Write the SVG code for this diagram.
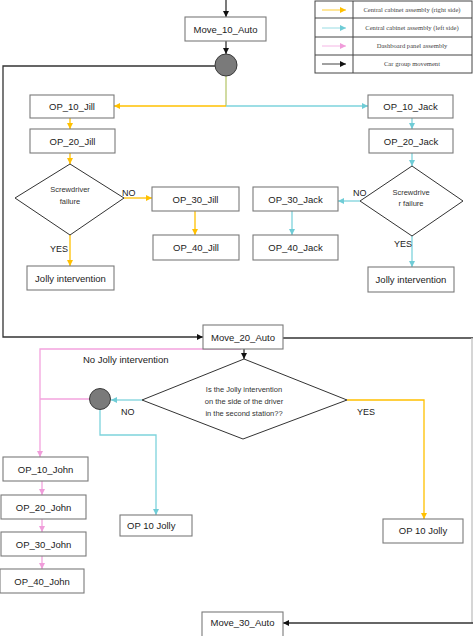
<svg xmlns="http://www.w3.org/2000/svg" width="474" height="636" viewBox="0 0 474 636">
<defs>
<style>
.box{fill:#fff;stroke:#7a7a7a;stroke-width:1.1}
.dia{fill:#fff;stroke:#333;stroke-width:1}
.t{font-family:"Liberation Sans",Arial,sans-serif;font-size:9.5px;fill:#222;text-anchor:middle}
.s{font-family:"Liberation Sans",Arial,sans-serif;font-size:7.5px;fill:#333;text-anchor:middle}
.l{font-family:"Liberation Sans",Arial,sans-serif;font-size:9px;fill:#222}
.lg{font-family:"Liberation Serif","Times New Roman",serif;font-size:6.6px;fill:#444;text-anchor:middle}
.k{fill:none;stroke:#333;stroke-width:1.3}
.y{fill:none;stroke:#FFC000;stroke-width:1.3}
.c{fill:none;stroke:#7DD3DC;stroke-width:1.3}
.p{fill:none;stroke:#F3A3DE;stroke-width:1.3}
.circ{fill:#7a7a7a;stroke:#3a3a3a;stroke-width:1}
</style>
<marker id="ak" markerUnits="userSpaceOnUse" markerWidth="7" markerHeight="6" refX="6" refY="3" orient="auto"><path d="M0,0L6,3L0,6z" fill="#111"/></marker>
<marker id="ay" markerUnits="userSpaceOnUse" markerWidth="7" markerHeight="6" refX="6" refY="3" orient="auto"><path d="M0,0L6,3L0,6z" fill="#FFC000"/></marker>
<marker id="ac" markerUnits="userSpaceOnUse" markerWidth="7" markerHeight="6" refX="6" refY="3" orient="auto"><path d="M0,0L6,3L0,6z" fill="#6FCCD6"/></marker>
<marker id="ap" markerUnits="userSpaceOnUse" markerWidth="7" markerHeight="6" refX="6" refY="3" orient="auto"><path d="M0,0L6,3L0,6z" fill="#F09CDA"/></marker>
</defs>
<rect width="474" height="636" fill="#fff"/>

<g id="legend">
<rect x="315" y="1" width="157" height="72" fill="#fff" stroke="#444" stroke-width="1"/>
<line x1="353" y1="1" x2="353" y2="73" stroke="#444"/>
<line x1="315" y1="18" x2="472" y2="18" stroke="#444"/>
<line x1="315" y1="37" x2="472" y2="37" stroke="#444"/>
<line x1="315" y1="55" x2="472" y2="55" stroke="#444"/>
<line x1="322" y1="10" x2="346" y2="10" stroke="#FFC000" stroke-width="0.8" marker-end="url(#ay)"/>
<line x1="322" y1="28" x2="346" y2="28" stroke="#7DD3DC" stroke-width="0.8" marker-end="url(#ac)"/>
<line x1="322" y1="46" x2="346" y2="46" stroke="#F3A3DE" stroke-width="0.8" marker-end="url(#ap)"/>
<line x1="322" y1="64" x2="346" y2="64" stroke="#111" stroke-width="0.8" marker-end="url(#ak)"/>
<text class="lg" x="412" y="12">Central cabinet assembly (right side)</text>
<text class="lg" x="412" y="30">Central cabinet assembly (left side)</text>
<text class="lg" x="412" y="48">Dashboard panel assembly</text>
<text class="lg" x="412" y="66">Car group movement</text>
</g>

<g id="connectors">
<path class="k" d="M226,0V17" marker-end="url(#ak)"/>
<path class="k" d="M226,41V54" marker-end="url(#ak)"/>
<path d="M226,76V106" fill="none" stroke="#B9C870" stroke-width="1.3"/>
<path class="y" d="M226,106H114" marker-end="url(#ay)"/>
<path class="c" d="M226,106H368" marker-end="url(#ac)"/>
<path class="y" d="M70,118V129" marker-end="url(#ay)"/>
<path class="y" d="M70,153V164" marker-end="url(#ay)"/>
<path class="y" d="M124,198H152" marker-end="url(#ay)"/>
<path class="y" d="M195,211V235" marker-end="url(#ay)"/>
<path class="y" d="M70,235V266" marker-end="url(#ay)"/>
<path class="c" d="M412,118V129" marker-end="url(#ac)"/>
<path class="c" d="M412,153V166" marker-end="url(#ac)"/>
<path class="c" d="M360,201H338" marker-end="url(#ac)"/>
<path class="c" d="M292,211V235" marker-end="url(#ac)"/>
<path class="c" d="M412,236V267" marker-end="url(#ac)"/>
<path class="k" d="M215,66H3V337H203" stroke-width="1.6" marker-end="url(#ak)"/>
<path class="k" d="M283,338H473"/>
<path d="M472,338V623" fill="none" stroke="#c8c8c8" stroke-width="1.5"/>
<path class="k" d="M473,623H283" marker-end="url(#ak)"/>
<path class="k" d="M244,349V359" marker-end="url(#ak)"/>
<path class="p" d="M241,349H40V457" marker-end="url(#ap)"/>
<path class="p" d="M89,399H40"/>
<path class="p" d="M42,481V495" marker-end="url(#ap)"/>
<path class="p" d="M42,519V532" marker-end="url(#ap)"/>
<path class="p" d="M42,556V569" marker-end="url(#ap)"/>
<path class="c" d="M142,400H111" marker-end="url(#ac)"/>
<path class="c" d="M100,410V435H156V515" marker-end="url(#ac)"/>
<path class="y" d="M347,400H424V519" marker-end="url(#ay)"/>
</g>

<g id="move10"><rect class="box" x="185" y="17" width="81" height="24"/><text class="t" x="225.5" y="32.5">Move_10_Auto</text></g>
<g id="junction1"><circle class="circ" cx="226" cy="65" r="11"/></g>
<g id="op10jill"><rect class="box" x="30" y="95" width="84" height="23"/><text class="t" x="72" y="110">OP_10_Jill</text></g>
<g id="op20jill"><rect class="box" x="30" y="129" width="85" height="24"/><text class="t" x="72.5" y="144.5">OP_20_Jill</text></g>
<g id="diajill"><polygon class="dia" points="70,164 124,198 70,235 15,198"/><text class="s" x="70" y="192">Screwdriver</text><text class="s" x="70" y="204">failure</text></g>
<g id="op30jill"><rect class="box" x="152" y="187" width="87" height="24"/><text class="t" x="195.5" y="202.5">OP_30_Jill</text></g>
<g id="op40jill"><rect class="box" x="153" y="235" width="86" height="25"/><text class="t" x="196" y="251">OP_40_Jill</text></g>
<g id="jollyL"><rect class="box" x="27" y="266" width="87" height="24"/><text class="t" x="70.5" y="281.5">Jolly intervention</text></g>
<g id="op10jack"><rect class="box" x="368" y="95" width="85" height="23"/><text class="t" x="410.5" y="110">OP_10_Jack</text></g>
<g id="op20jack"><rect class="box" x="369" y="129" width="84" height="24"/><text class="t" x="411" y="144.5">OP_20_Jack</text></g>
<g id="diajack"><polygon class="dia" points="412,166 463,201 412,236 360,201"/><text class="s" x="411" y="195">Screwdrive</text><text class="s" x="411" y="206">r failure</text></g>
<g id="op30jack"><rect class="box" x="253" y="187" width="85" height="24"/><text class="t" x="295.5" y="202.5">OP_30_Jack</text></g>
<g id="op40jack"><rect class="box" x="253" y="235" width="85" height="25"/><text class="t" x="295.5" y="251">OP_40_Jack</text></g>
<g id="jollyR"><rect class="box" x="368" y="267" width="86" height="25"/><text class="t" x="411" y="283">Jolly intervention</text></g>
<g id="move20"><rect class="box" x="203" y="325" width="80" height="24"/><text class="t" x="243" y="340.5">Move_20_Auto</text></g>
<g id="dia2"><polygon class="dia" points="244,359 347,400 243,439 142,400"/><text class="s" x="244" y="392">Is the Jolly intervention</text><text class="s" x="244" y="404">on the side of the driver</text><text class="s" x="244" y="415.5">in the second station??</text></g>
<g id="junction2"><circle class="circ" cx="100" cy="399" r="10.5"/></g>
<g id="op10john"><rect class="box" x="3" y="457" width="85" height="24"/><text class="t" x="45.5" y="472.5">OP_10_John</text></g>
<g id="op20john"><rect class="box" x="1" y="495" width="85" height="24"/><text class="t" x="43.5" y="510.5">OP_20_John</text></g>
<g id="op30john"><rect class="box" x="1" y="532" width="85" height="24"/><text class="t" x="43.5" y="547.5">OP_30_John</text></g>
<g id="op40john"><rect class="box" x="0" y="569" width="84" height="24"/><text class="t" x="42" y="584.5">OP_40_John</text></g>
<g id="jollyOpL"><rect class="box" x="120" y="515" width="72" height="21"/><text class="t" x="127" y="529" style="text-anchor:start">OP 10 Jolly</text></g>
<g id="jollyOpR"><rect class="box" x="383" y="519" width="80" height="24"/><text class="t" x="423" y="534">OP 10 Jolly</text></g>
<g id="move30"><rect class="box" x="202" y="612" width="81" height="30"/><text class="t" x="242.5" y="626">Move_30_Auto</text></g>

<g id="labels">
<text class="l" x="122" y="196">NO</text>
<text class="l" x="50" y="252">YES</text>
<text class="l" x="353" y="196">NO</text>
<text class="l" x="394" y="247">YES</text>
<text class="t" x="83" y="363" style="text-anchor:start">No Jolly intervention</text>
<text class="l" x="121" y="415">NO</text>
<text class="l" x="357" y="415">YES</text>
</g>
</svg>
